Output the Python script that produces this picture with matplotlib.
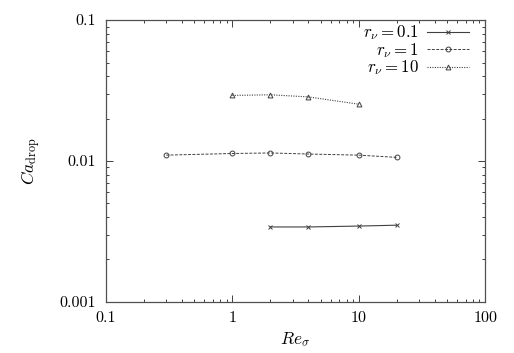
import matplotlib
matplotlib.use("Agg")
import matplotlib.pyplot as plt
from matplotlib.ticker import FixedLocator, FixedFormatter, LogLocator, NullFormatter

plt.rcParams['font.family'] = 'serif'
plt.rcParams['font.serif'] = ['cmr10', 'DejaVu Serif']
plt.rcParams['mathtext.fontset'] = 'cm'
plt.rcParams['axes.unicode_minus'] = False

# data
re_01 = [2, 4, 10, 20]
ca_01 = [0.0034, 0.0034, 0.00345, 0.0035]

re_1 = [0.3, 1, 2, 4, 10, 20]
ca_1 = [0.0110, 0.0113, 0.0114, 0.0112, 0.0110, 0.0106]

re_10 = [1, 2, 4, 10]
ca_10 = [0.0292, 0.0295, 0.0285, 0.0253]

xticks = [0.1, 1, 10, 100]
xlabels = ['0.1', '1', '10', '100']
yticks = [0.001, 0.01, 0.1]
ylabels = ['0.001', '0.01', '0.1']

fig = plt.figure(figsize=(5.14, 3.53), dpi=100)
ax = fig.add_axes([0.206, 0.145, 0.738, 0.798])

col = '#404040'
ax.plot(re_01, ca_01, ls='-', color=col, lw=0.8, marker='x', ms=3.5, mew=0.7,
        label=r'$r_\nu = 0.1$')
ax.plot(re_1, ca_1, ls=(0, (3, 1.5)), color=col, lw=0.7, marker='o', ms=3.5,
        mfc='none', mew=0.7, label=r'$r_\nu = 1$')
ax.plot(re_10, ca_10, ls=(0, (1, 1.2)), color=col, lw=0.8, marker='^', ms=3.5,
        mfc='none', mew=0.7, label=r'$r_\nu = 10$')

ax.set_xscale('log')
ax.set_yscale('log')
ax.set_xlim(0.1, 100)
ax.set_ylim(0.001, 0.1)

ax.xaxis.set_major_locator(FixedLocator(xticks))
ax.xaxis.set_major_formatter(FixedFormatter(xlabels))
ax.yaxis.set_major_locator(FixedLocator(yticks))
ax.yaxis.set_major_formatter(FixedFormatter(ylabels))
for a in (ax.xaxis, ax.yaxis):
    a.set_minor_locator(LogLocator(base=10, subs=range(2, 10)))
    a.set_minor_formatter(NullFormatter())

ax.tick_params(which='both', direction='in', top=True, right=True,
               labelsize=11.5, color='#202020', width=0.6)
ax.tick_params(which='major', length=5, pad=7)
ax.tick_params(which='minor', length=2.5)
for s in ax.spines.values():
    s.set_linewidth(0.9)
    s.set_color('#505050')

ax.set_xlabel(r'$Re_\sigma$', fontsize=12.5, labelpad=4)
ax.set_ylabel(r'$Ca_{\mathrm{drop}}$', fontsize=12.5, labelpad=12)

# gnuplot-like key: text right-aligned, sample after it
ax.legend(loc='upper right', bbox_to_anchor=(0.966, 1.0), frameon=False,
          markerfirst=False, fontsize=12.2, handlelength=2.5,
          handletextpad=0.45, labelspacing=-0.08, borderaxespad=0,
          borderpad=0.2)

fig.savefig('out.png', dpi=100)
